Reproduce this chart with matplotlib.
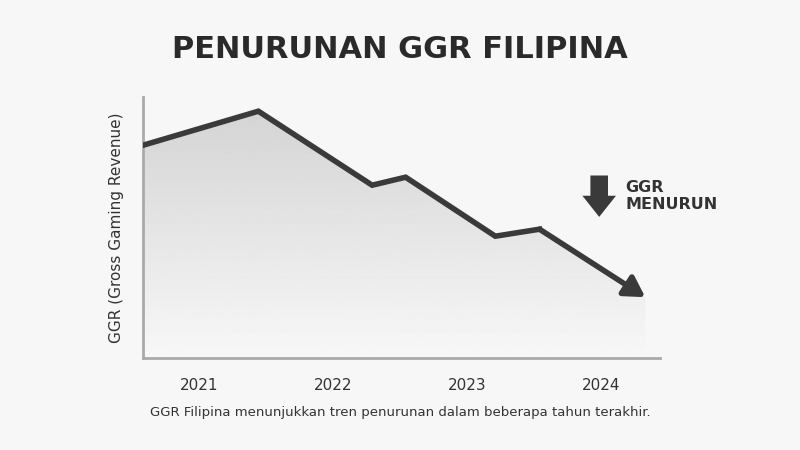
import matplotlib
matplotlib.use("Agg")
import matplotlib.pyplot as plt
import numpy as np
from matplotlib.patches import Polygon

years = [2020.58, 2021.44, 2022.29, 2022.54, 2023.21, 2023.54, 2024.33]
ggr = [213, 247, 173, 181, 122, 129, 61]
tick_years = [2021, 2022, 2023, 2024]
tick_labels = ["2021", "2022", "2023", "2024"]

bg = "#f7f7f7"
fig = plt.figure(figsize=(8, 4.5), dpi=100, facecolor=bg)
ax = fig.add_axes([0.179, 0.204, 0.646, 0.58], facecolor=bg)
x0, x1 = 2020.58, 2024.44
ax.set_xlim(x0, x1)
ax.set_ylim(0, 261)

grad = np.linspace(0.97, 0.83, 256).reshape(-1, 1)
im = ax.imshow(grad, extent=[x0, x1, 0, 250], origin="lower", cmap="gray",
               vmin=0, vmax=1, aspect="auto", zorder=1)
poly = Polygon(list(zip(years, ggr)) + [(years[-1], 0), (years[0], 0)],
               closed=True, transform=ax.transData, facecolor="none", edgecolor="none")
ax.add_patch(poly)
im.set_clip_path(poly)

ax.plot(years[:-1], ggr[:-1], color="#3a3a3a", lw=4, solid_joinstyle="miter", zorder=3)
ax.annotate("", xy=(years[-1], ggr[-1]), xytext=(years[-2], ggr[-2]),
            arrowprops=dict(arrowstyle="-|>,head_width=0.7,head_length=1.2",
                            color="#3a3a3a", lw=4, shrinkA=0, shrinkB=0), zorder=3)

for s in ["top", "right"]:
    ax.spines[s].set_visible(False)
for s in ["left", "bottom"]:
    ax.spines[s].set_color("#aaaaaa")
    ax.spines[s].set_linewidth(2)
ax.set_yticks([])
ax.set_xticks(tick_years)
ax.set_xticklabels(tick_labels, fontsize=11, color="#333333")
ax.tick_params(axis="x", length=0, pad=14)
ax.set_ylabel("GGR (Gross Gaming Revenue)", fontsize=11, color="#333333", labelpad=14)

fig.text(0.5, 0.89, "PENURUNAN GGR FILIPINA", ha="center", va="center",
         fontsize=22, fontweight="bold", color="#2a2a2a")
fig.text(0.5, 0.083, "GGR Filipina menunjukkan tren penurunan dalam beberapa tahun terakhir.",
         ha="center", va="center", fontsize=9.5, color="#333333")

fig.patches.append(plt.Polygon([(0.738, 0.61), (0.760, 0.61), (0.760, 0.565),
                                (0.770, 0.565), (0.749, 0.518), (0.728, 0.565),
                                (0.738, 0.565)], closed=True, transform=fig.transFigure,
                               facecolor="#3a3a3a", edgecolor="none"))
fig.text(0.782, 0.565, "GGR\nMENURUN", ha="left", va="center", fontsize=11.5,
         fontweight="bold", color="#333333", linespacing=1.2)

fig.savefig("out.png", dpi=100, facecolor=bg)
